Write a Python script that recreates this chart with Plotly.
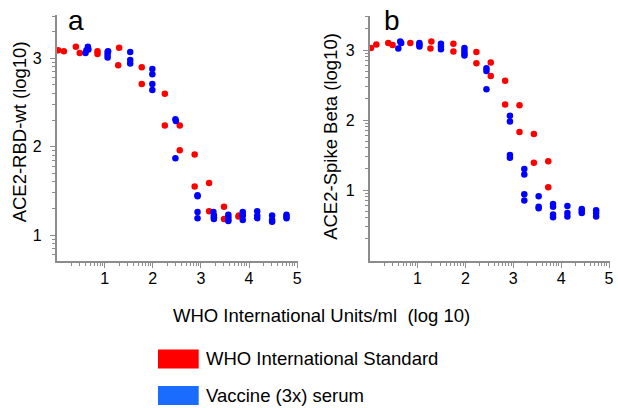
import numpy as np
import plotly.graph_objects as go

# ---------------- data ----------------
# Panel a: ACE2-RBD-wt
a_who_x = [0.03, 0.15, 0.40, 0.48, 0.85, 0.85, 1.30, 1.28, 1.77, 1.77, 2.25, 2.25,
           2.56, 2.56, 2.87, 2.87, 3.17, 3.17, 3.48, 3.48, 3.78, 3.79]
a_who_y = [3.09, 3.08, 3.13, 3.06, 3.08, 3.05, 3.12, 2.92, 2.90, 2.71, 2.60, 2.24,
           2.24, 1.96, 1.91, 1.55, 1.59, 1.27, 1.32, 1.18, 1.21, 1.22]
a_vac_x = [0.60, 0.62, 0.65, 0.66,
           1.06, 1.06, 1.06, 1.07,
           1.53, 1.53, 1.53,
           1.99, 1.99, 1.99, 1.99,
           2.47, 2.48, 2.47,
           2.93, 2.93, 2.93, 2.93,
           3.26, 3.27, 3.27, 3.27,
           3.57, 3.57, 3.57, 3.57,
           3.87, 3.87, 3.87, 3.87,
           4.17, 4.17, 4.17,
           4.48, 4.48, 4.48,
           4.78, 4.78, 4.78]
a_vac_y = [3.06, 3.09, 3.13, 3.10,
           3.07, 3.04, 3.01, 3.08,
           3.07, 2.98, 2.94,
           2.88, 2.82, 2.71, 2.64,
           2.31, 2.29, 1.87,
           1.45, 1.44, 1.26, 1.19,
           1.26, 1.22, 1.20, 1.18,
           1.23, 1.20, 1.17, 1.16,
           1.26, 1.23, 1.22, 1.17,
           1.27, 1.22, 1.19,
           1.22, 1.17, 1.15,
           1.23, 1.21, 1.19]

# Panel b: ACE2-Spike Beta
b_who_x = [0.03, 0.14, 0.39, 0.48, 0.85, 1.29, 1.27, 1.75, 1.75, 2.23, 2.23,
           2.53, 2.53, 2.83, 2.83, 3.13, 3.13, 3.43, 3.43, 3.73, 3.73]
b_who_y = [3.03, 3.08, 3.10, 3.07, 3.10, 3.12, 3.02, 3.09, 2.98, 2.97, 2.81,
           2.82, 2.63, 2.56, 2.22, 2.21, 1.83, 1.80, 1.39, 1.41, 1.04]
b_vac_x = [0.60, 0.64, 0.66,
           1.04, 1.04, 1.04,
           1.49, 1.49, 1.49,
           1.98, 1.98, 1.98, 1.98,
           2.44, 2.44, 2.44,
           2.93, 2.93, 2.93, 2.93,
           3.23, 3.23, 3.23, 3.23,
           3.53, 3.53, 3.53,
           3.83, 3.83, 3.83, 3.83,
           4.13, 4.13, 4.13,
           4.43, 4.43, 4.43,
           4.73, 4.73, 4.73]
b_vac_y = [3.02, 3.12, 3.10,
           3.10, 3.08, 3.05,
           3.09, 3.05, 3.01,
           3.03, 2.99, 2.95, 2.92,
           2.74, 2.70, 2.44,
           2.06, 1.98, 1.50, 1.46,
           1.30, 1.22, 0.94, 0.85,
           0.91, 0.76, 0.74,
           0.80, 0.76, 0.65, 0.61,
           0.77, 0.67, 0.62,
           0.73, 0.70, 0.67,
           0.71, 0.67, 0.62]

x_ticks = [1, 2, 3, 4, 5]
y_ticks = [1, 2, 3]
panel_labels = ["a", "b"]
y_titles = ["ACE2-RBD-wt (log10)", "ACE2-Spike Beta (log10)"]
x_title = "WHO International Units/ml\u00a0\u00a0(log 10)"
legend_names = ["WHO International Standard", "Vaccine (3x) serum"]

RED = "#ff0000"
BLUE = "#0000ff"
LEG_BLUE = "#1a6cff"
AXC = "#8c8c8c"
FONT = "Liberation Sans, Arial, sans-serif"


def log_minor(lo, hi):
    vals = []
    for n in range(-1, 6):
        for k in range(2, 10):
            v = n + np.log10(k)
            if lo <= v <= hi:
                vals.append(float(v))
    return vals


fig = go.Figure()
mk = dict(size=6.5, line=dict(width=0))
fig.add_trace(go.Scatter(x=a_who_x, y=a_who_y, mode="markers", marker=dict(color=RED, **mk),
                         xaxis="x", yaxis="y", showlegend=False))
fig.add_trace(go.Scatter(x=a_vac_x, y=a_vac_y, mode="markers", marker=dict(color=BLUE, **mk),
                         xaxis="x", yaxis="y", showlegend=False))
fig.add_trace(go.Scatter(x=b_who_x, y=b_who_y, mode="markers", marker=dict(color=RED, **mk),
                         xaxis="x2", yaxis="y2", showlegend=False))
fig.add_trace(go.Scatter(x=b_vac_x, y=b_vac_y, mode="markers", marker=dict(color=BLUE, **mk),
                         xaxis="x2", yaxis="y2", showlegend=False))

W, H = 618, 408


def axis_common(standoff):
    return dict(showgrid=False, zeroline=False, showline=True, linecolor=AXC, linewidth=1.5,
                ticks="outside", ticklen=5, tickwidth=1, tickcolor=AXC,
                ticklabeloverflow="allow", ticklabelstandoff=standoff,
                tickfont=dict(family=FONT, size=16, color="black"))


def minor(r):
    return dict(tickvals=log_minor(*r), ticks="outside", ticklen=3, tickcolor=AXC)


xr = [0, 5.02]
ya_r = [0.706, 3.49]
yb_r = [-0.014, 3.486]
BOT = 1 - 261 / H

fig.update_layout(
    width=W, height=H, margin=dict(l=0, r=0, t=0, b=0),
    paper_bgcolor="white", plot_bgcolor="white",
    xaxis=dict(domain=[57 / W, 300 / W], range=xr, tickvals=x_ticks, anchor="y",
               minor=minor(xr), **axis_common(-3)),
    yaxis=dict(domain=[BOT, 1 - 15 / H], range=ya_r, tickvals=y_ticks, anchor="x",
               minor=minor(ya_r), **axis_common(5)),
    xaxis2=dict(domain=[372 / W, 614 / W], range=xr, tickvals=x_ticks, anchor="y2",
                minor=minor(xr), **axis_common(-3)),
    yaxis2=dict(domain=[BOT, 1 - 16 / H], range=yb_r, tickvals=y_ticks, anchor="x2",
                minor=minor(yb_r), **axis_common(5)),
)

ann = []
# panel labels
ann.append(dict(text=panel_labels[0], x=66 / W, y=1 - 3.5 / H, xref="paper", yref="paper",
                xanchor="left", yanchor="top", showarrow=False,
                font=dict(family=FONT, size=28, color="black")))
ann.append(dict(text=panel_labels[1], x=384.5 / W, y=1 - 3.5 / H, xref="paper", yref="paper",
                xanchor="left", yanchor="top", showarrow=False,
                font=dict(family=FONT, size=28, color="black")))
# y titles
ann.append(dict(text=y_titles[0], x=20.5 / W, y=1 - 132 / H, xref="paper", yref="paper",
                textangle=-90, showarrow=False, xanchor="center", yanchor="middle",
                font=dict(family=FONT, size=18.5, color="black")))
ann.append(dict(text=y_titles[1], x=333 / W, y=1 - 136 / H, xref="paper", yref="paper",
                textangle=-90, showarrow=False, xanchor="center", yanchor="middle",
                font=dict(family=FONT, size=18.5, color="black")))
# x title
ann.append(dict(text=x_title, x=324 / W, y=1 - 315 / H, xref="paper", yref="paper",
                showarrow=False, xanchor="center", yanchor="middle",
                font=dict(family=FONT, size=18.5, color="black")))
# legend text
ann.append(dict(text=legend_names[0], x=205 / W, y=1 - 358.5 / H, xref="paper", yref="paper",
                showarrow=False, xanchor="left", yanchor="middle",
                font=dict(family=FONT, size=18.5, color="black")))
ann.append(dict(text=legend_names[1], x=205 / W, y=1 - 395.5 / H, xref="paper", yref="paper",
                showarrow=False, xanchor="left", yanchor="middle",
                font=dict(family=FONT, size=18.5, color="black")))
fig.update_layout(annotations=ann)

# legend swatches
fig.add_shape(type="rect", xref="paper", yref="paper", x0=159 / W, x1=200 / W,
              y0=1 - 368.5 / H, y1=1 - 349.5 / H, fillcolor=RED, line=dict(width=0))
fig.add_shape(type="rect", xref="paper", yref="paper", x0=159 / W, x1=200 / W,
              y0=1 - 405 / H, y1=1 - 386 / H, fillcolor=LEG_BLUE, line=dict(width=0))

fig.write_html("out.html", config={"displayModeBar": False},
               post_script="document.body.style.margin='0px';document.body.style.overflow='hidden';")
